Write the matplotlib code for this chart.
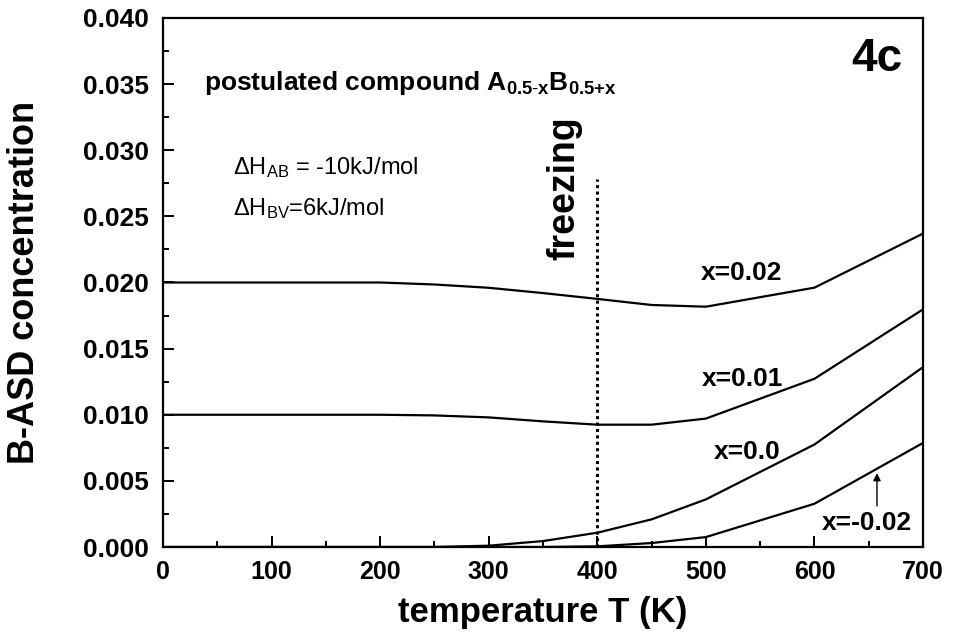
import numpy as np
import matplotlib
matplotlib.use("Agg")
import matplotlib.pyplot as plt
from matplotlib.ticker import MultipleLocator, FormatStrFormatter

plt.rcParams['font.family'] = ['Liberation Sans', 'DejaVu Sans']
plt.rcParams['mathtext.fontset'] = 'custom'
plt.rcParams['mathtext.rm'] = 'Liberation Sans'
plt.rcParams['mathtext.it'] = 'Liberation Sans'
plt.rcParams['mathtext.bf'] = 'Liberation Sans:bold'

# temperatures (K)
T = [0, 50, 100, 150, 200, 250, 300, 350, 400, 450, 500, 600, 700]

# B-ASD concentration for each composition
c_x002 = [0.0200, 0.0200, 0.0200, 0.0200, 0.0200, 0.01985, 0.0196, 0.0192, 0.01876, 0.0183, 0.01817, 0.01961, 0.0237]
c_x001 = [0.0100, 0.0100, 0.0100, 0.0100, 0.0100, 0.00995, 0.0098, 0.0095, 0.00925, 0.00925, 0.00971, 0.01272, 0.01797]
c_x000 = [0.0, 0.0, 0.0, 0.0, 0.0, 0.0, 0.0001, 0.00045, 0.00108, 0.00209, 0.0036, 0.00775, 0.0136]
c_xm002 = [0.0, 0.0, 0.0, 0.0, 0.0, 0.0, 0.0, 0.0, 0.00005, 0.0003, 0.00075, 0.00327, 0.00787]

freezing_T = 400
freezing_top = 0.0278

fig = plt.figure(figsize=(9.55, 6.4), dpi=100)
ax = fig.add_axes([0.1707, 0.1453, 0.7958, 0.8266])

for c in (c_x002, c_x001, c_x000, c_xm002):
    ax.plot(T, c, color='black', lw=1.6)

ax.plot([freezing_T, freezing_T], [0, freezing_top], color='black', lw=2.2, ls=(0, (1, 1.1)))

ax.set_xlim(0, 700)
ax.set_ylim(0, 0.040)
ax.xaxis.set_major_locator(MultipleLocator(100))
ax.xaxis.set_minor_locator(MultipleLocator(50))
ax.yaxis.set_major_locator(MultipleLocator(0.005))
ax.yaxis.set_minor_locator(MultipleLocator(0.0025))
ax.yaxis.set_major_formatter(FormatStrFormatter('%.3f'))
ax.tick_params(which='both', direction='in', top=False, right=False, width=1.4)
ax.tick_params(which='major', length=8)
ax.tick_params(which='minor', length=4)
ax.tick_params(axis='y', which='major', labelsize=19, pad=10)
ax.tick_params(axis='x', which='major', labelsize=18, pad=9)
for lab in ax.get_xticklabels() + ax.get_yticklabels():
    lab.set_fontweight('bold')
for s in ax.spines.values():
    s.set_linewidth(1.6)

ax.set_xlabel('temperature T (K)', fontsize=25, fontweight='bold', va='center')
ax.set_ylabel('B-ASD concentration', fontsize=26, fontweight='bold', va='center')
ax.xaxis.set_label_coords(0.5, -0.123)
ax.yaxis.set_label_coords(-0.182, 0.5)

ax.text(657, 0.0369, '4c', fontsize=33, fontweight='bold', ha='center', va='center')
ax.text(38, 0.0351, r'postulated compound $\mathbf{A_{0.5{\text{-}}x}B_{0.5{+}x}}$',
        fontsize=19, fontweight='bold', ha='left', va='center')
ax.text(64, 0.0287, r'$\Delta$H$_{AB}$ = -10kJ/mol', fontsize=17, ha='left', va='center')
ax.text(64, 0.0256, r'$\Delta$H$_{BV}$=6kJ/mol', fontsize=17, ha='left', va='center')
ax.text(370, 0.0271, 'freezing', fontsize=27, fontweight='bold', rotation=90,
        ha='center', va='center')

ax.text(533, 0.0207, 'x=0.02', fontsize=19, fontweight='bold', ha='center', va='center')
ax.text(534, 0.0127, 'x=0.01', fontsize=19, fontweight='bold', ha='center', va='center')
ax.text(538, 0.0072, 'x=0.0', fontsize=19, fontweight='bold', ha='center', va='center')
ax.text(648, 0.0018, 'x=-0.02', fontsize=19, fontweight='bold', ha='center', va='center')
ax.annotate('', xy=(657.6, 0.0058), xytext=(657.6, 0.0029),
            arrowprops=dict(arrowstyle='-|>', color='black', lw=1.0, mutation_scale=11))

fig.savefig('out.png', dpi=100)
